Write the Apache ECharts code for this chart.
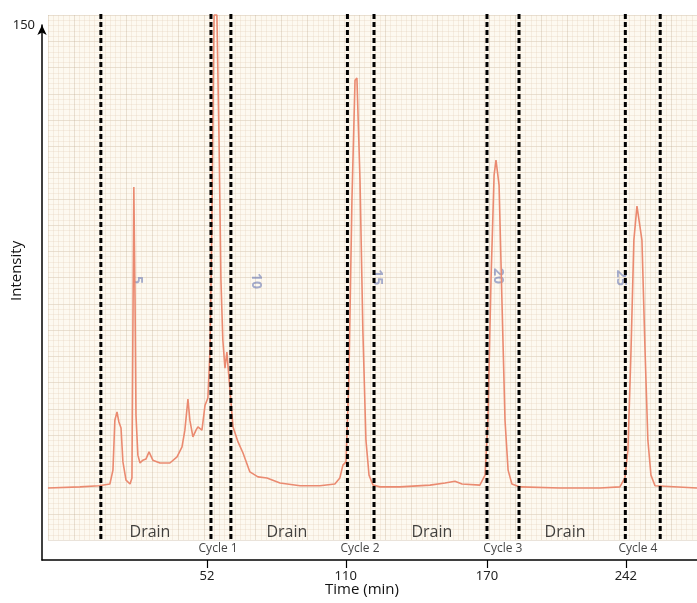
<!DOCTYPE html>
<html>
<head>
<meta charset="utf-8">
<script src="https://cdn.jsdelivr.net/npm/echarts@6/dist/echarts.min.js"></script>
<style>html,body{margin:0;padding:0;background:#fff;}#c{width:697px;height:603px;}</style>
</head>
<body>
<div id="c"></div>
<script>
// Chromatogram trace: [time (recorder scale, min), intensity]
const traceTime = [-15.0,-1.5,6.5,11.1,12.4,13.2,14.1,14.9,15.8,16.6,17.9,19.6,20.4,20.8,21.2,21.7,22.1,22.9,23.8,25.0,26.3,27.6,29.2,32.2,36.4,39.4,41.5,42.7,44.0,44.8,46.1,47.4,48.2,49.9,51.2,52.4,53.3,54.1,55.0,56.2,57.1,57.9,58.7,59.6,60.4,61.7,63.0,65.1,67.2,70.1,73.5,77.3,82.8,91.2,99.6,105.9,108.0,109.3,110.6,111.8,113.1,114.4,115.2,116.5,117.7,119.0,120.3,122.0,124.9,133.3,146.0,152.3,156.5,159.5,167.0,169.2,170.4,171.7,173.0,173.8,175.1,176.3,177.6,178.9,180.5,183.9,200.8,217.6,226.0,228.1,229.4,230.7,231.9,233.2,234.0,235.3,236.6,237.8,239.1,240.8,258.5];
const traceIntensity = [20.2,20.5,20.8,21.3,25.2,39.2,41.5,38.7,37.0,27.5,22.4,21.3,23.0,64.5,104.6,72.9,40.6,29.4,27.2,28.0,28.3,30.3,28.0,27.2,27.2,28.9,31.7,36.4,45.1,39.2,34.5,36.4,37.3,36.4,43.4,45.4,58.9,95.3,152.8,152.8,117.7,78.5,61.7,53.8,58.3,47.7,37.3,33.1,30.0,24.7,23.3,23.0,21.6,20.8,20.8,21.3,23.0,26.6,27.5,50.5,100.9,134.5,135.1,106.5,64.5,33.6,23.8,21.0,20.5,20.5,21.0,21.6,22.1,21.3,21.0,23.8,39.2,78.5,107.9,112.1,105.1,72.9,39.2,25.2,21.3,20.5,20.2,20.2,20.5,23.0,30.8,58.9,89.7,99.2,99.5,89.7,58.9,33.6,23.8,20.8,20.2];

// Dashed fraction dividers (time positions)
const dividerTimes = [7.3, 53.7, 62.1, 111.2, 122.4, 170.0, 183.5, 228.3, 243.0];
const dividerLow = 5.9, dividerHigh = 153.3;

// X tick positions on the recorder scale and their printed labels
const xTickPositions = [52, 110.5, 170, 228.5];
const xTickLabels = ['52', '110', '170', '242'];

// Annotations
const drainNames = ['Drain', 'Drain', 'Drain', 'Drain'];
const drainTimes = [28.0, 85.7, 146.8, 202.9];
const drainLevel = 7.6;
const cycleNames = ['Cycle 1', 'Cycle 2', 'Cycle 3', 'Cycle 4'];
const cycleTimes = [56.7, 116.5, 176.7, 233.6];
const cycleLevel = 3.1;
const paperNumbers = ['5', '10', '15', '20', '25'];
const paperNumberTimes = [22.5, 72.7, 123.6, 174.6, 226.5];
const paperNumberLevels = [78.5, 78.2, 79.3, 79.6, 79.1];

const chart = echarts.init(document.getElementById('c'), null, {renderer: 'canvas'});
const trace = traceTime.map((t, i) => [t, traceIntensity[i]]);

const dividerSeries = dividerTimes.map(t => ({
  type: 'line', xAxisIndex: 0, yAxisIndex: 0, clip: false, silent: true,
  data: [[t, dividerLow], [t, dividerHigh]], symbol: 'none',
  lineStyle: {color: '#000', type: [5, 3], width: 3}, z: 4
}));

const majorColor = 'rgba(195,175,150,0.35)';
const minorColor = 'rgba(225,205,180,0.28)';

const option = {
  animation: false,
  backgroundColor: '#ffffff',
  grid: [
    {left: 42, right: 0, top: 25, bottom: 43, containLabel: false},
    {left: 48, right: 0, top: 15, bottom: 63, show: true, backgroundColor: '#fdf9f0', borderWidth: 0, z: -1}
  ],
  xAxis: [
    {
      type: 'value', gridIndex: 0, min: -17.5, max: 258.5,
      axisLine: {show: true, onZero: false, lineStyle: {color: '#000', width: 1.5}},
      axisTick: {show: true, customValues: xTickPositions, length: 8, inside: false, lineStyle: {color: '#000', width: 1.2}},
      axisLabel: {
        show: true, customValues: xTickPositions, margin: 10,
        fontFamily: 'Liberation Sans Narrow, Noto Sans, sans-serif', fontSize: 13, color: '#222',
        formatter: v => { const i = xTickPositions.indexOf(v); return i >= 0 ? xTickLabels[i] : ''; }
      },
      splitLine: {show: false}
    },
    {
      type: 'value', gridIndex: 1, min: 0, max: 650, interval: 26,
      axisLine: {show: false}, axisTick: {show: false}, axisLabel: {show: false},
      splitLine: {show: true, lineStyle: {color: majorColor, width: 1}},
      minorTick: {show: false, splitNumber: 5},
      minorSplitLine: {show: true, lineStyle: {color: minorColor, width: 1}}
    }
  ],
  yAxis: [
    {
      type: 'value', gridIndex: 0, min: 0, max: 150,
      axisLine: {show: true, onZero: false, symbol: ['none', 'arrow'], symbolSize: [7, 10], lineStyle: {color: '#000', width: 1.5}},
      axisTick: {show: false},
      axisLabel: {show: true, customValues: [150], margin: 7, fontFamily: 'Liberation Sans Narrow, Noto Sans, sans-serif', fontSize: 13, color: '#222'},
      splitLine: {show: false}
    },
    {
      type: 'value', gridIndex: 1, min: 0, max: 525, interval: 26.25,
      axisLine: {show: false}, axisTick: {show: false}, axisLabel: {show: false},
      splitLine: {show: true, lineStyle: {color: majorColor, width: 1}},
      minorTick: {show: false, splitNumber: 5},
      minorSplitLine: {show: true, lineStyle: {color: minorColor, width: 1}}
    }
  ],
  series: [
    {
      type: 'line', xAxisIndex: 0, yAxisIndex: 0, data: trace, clip: false,
      symbol: 'none', smooth: false,
      lineStyle: {color: '#ea8a70', width: 1.6},
      z: 3
    },
    ...dividerSeries,
    {
      type: 'scatter', xAxisIndex: 0, yAxisIndex: 0, symbolSize: 0, clip: false, silent: true,
      data: drainTimes.map((t, i) => ({value: [t, drainLevel], name: drainNames[i]})),
      label: {show: true, position: 'inside', formatter: p => p.name, fontFamily: 'Open Sans, Noto Sans, sans-serif', fontSize: 16, color: '#111'},
      z: 5
    },
    {
      type: 'scatter', xAxisIndex: 0, yAxisIndex: 0, symbolSize: 0, clip: false, silent: true,
      data: cycleTimes.map((t, i) => ({value: [t, cycleLevel], name: cycleNames[i]})),
      label: {show: true, position: 'inside', formatter: p => p.name, fontFamily: 'Open Sans, Noto Sans, sans-serif', fontSize: 12, color: '#111'},
      z: 5
    },
    {
      type: 'scatter', xAxisIndex: 0, yAxisIndex: 0, symbolSize: 0, clip: false, silent: true,
      data: paperNumberTimes.map((t, i) => ({value: [t, paperNumberLevels[i]], name: paperNumbers[i]})),
      label: {show: true, position: 'inside', rotate: -90, formatter: p => p.name, fontFamily: 'Noto Sans, sans-serif', fontSize: 14, fontWeight: 'bold', color: 'rgba(105,120,180,0.75)'},
      z: 1
    }
  ],
  graphic: [
    {type: 'text', left: 325, top: 582, style: {text: 'Time (min)', font: '15px "Open Sans", "Noto Sans", sans-serif', fill: '#111'}},
    {type: 'text', x: 17, y: 301, rotation: Math.PI / 2, style: {text: 'Intensity', font: '15px "Open Sans", "Noto Sans", sans-serif', fill: '#111', align: 'left', verticalAlign: 'middle'}}
  ]
};
chart.setOption(option);
</script>
</body>
</html>
